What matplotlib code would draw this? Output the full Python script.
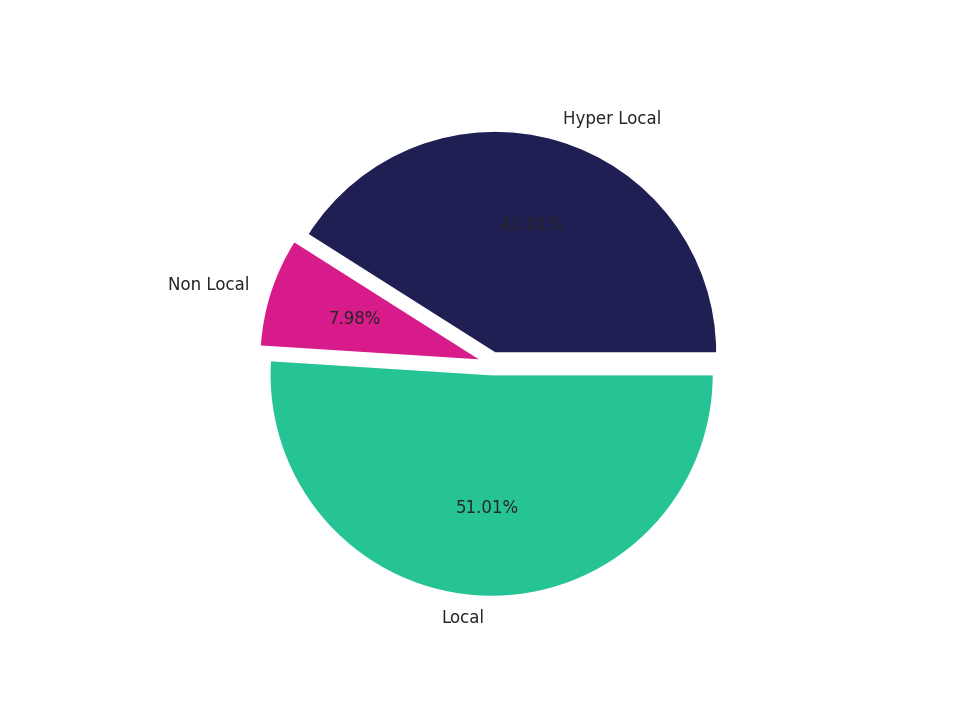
import matplotlib
matplotlib.use("Agg")
import matplotlib.pyplot as plt
import seaborn as sns

sns.set_theme(style="white")
labels = ["Hyper Local", "Non Local", "Local"]
values = [41.01, 7.98, 51.01]
colors = ["#1f1f53", "#d81b8a", "#26c494"]

fig, ax = plt.subplots(figsize=(9.6, 7.2), dpi=100)
ax.pie(values, labels=labels, colors=colors, autopct="%.2f%%",
       explode=[0.05, 0.05, 0.05], textprops={"fontsize": 12, "color": "#262626"})
ax.set_aspect("equal")
fig.savefig("out.png", dpi=100)
